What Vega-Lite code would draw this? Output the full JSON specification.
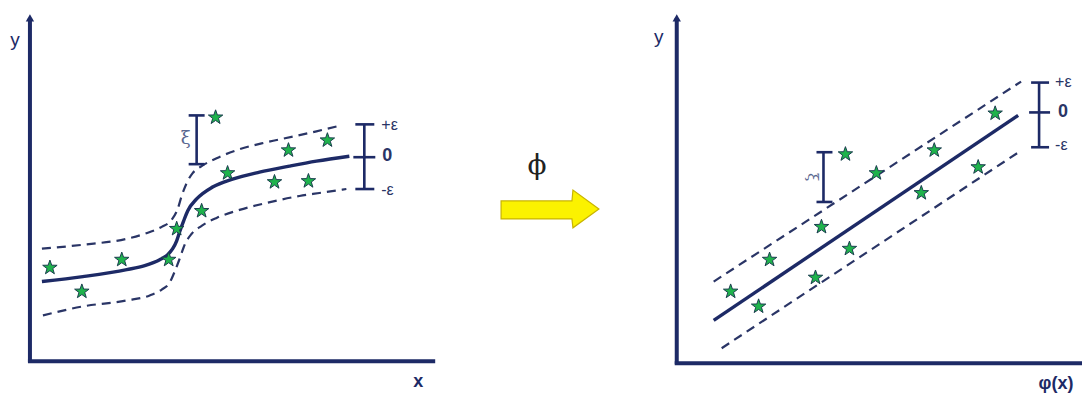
{
  "$schema": "https://vega.github.io/schema/vega-lite/v6.json",
  "width": 1084,
  "height": 393,
  "padding": 0,
  "autosize": {"type": "fit", "contains": "padding"},
  "background": "white",
  "config": {"view": {"stroke": null}},
  "datasets": {
    "axes": [
      {"id": "L-y", "x": 30, "y": 18, "x2": 30, "y2": 364},
      {"id": "L-x", "x": 28, "y": 363, "x2": 436, "y2": 363},
      {"id": "R-y", "x": 678, "y": 18, "x2": 678, "y2": 366},
      {"id": "R-x", "x": 676, "y": 365, "x2": 1084, "y2": 365}
    ],
    "axisTips": [
      {"x": 30, "y": 18},
      {"x": 678, "y": 18}
    ],
    "fit": [
      {"id": "L", "x": 42, "y": 283}, {"id": "L", "x": 83, "y": 278}, {"id": "L", "x": 127, "y": 271},
      {"id": "L", "x": 145, "y": 267}, {"id": "L", "x": 160, "y": 261}, {"id": "L", "x": 168, "y": 256},
      {"id": "L", "x": 173, "y": 250}, {"id": "L", "x": 177, "y": 242}, {"id": "L", "x": 180, "y": 233},
      {"id": "L", "x": 184, "y": 222}, {"id": "L", "x": 188, "y": 212}, {"id": "L", "x": 197, "y": 200},
      {"id": "L", "x": 213, "y": 188}, {"id": "L", "x": 233, "y": 180}, {"id": "L", "x": 260, "y": 173},
      {"id": "L", "x": 290, "y": 167}, {"id": "L", "x": 317, "y": 162}, {"id": "L", "x": 350, "y": 157},
      {"id": "R", "x": 715, "y": 322}, {"id": "R", "x": 1020, "y": 116}
    ],
    "tube": [
      {"id": "Lu", "x": 42, "y": 250}, {"id": "Lu", "x": 83, "y": 246}, {"id": "Lu", "x": 127, "y": 240},
      {"id": "Lu", "x": 145, "y": 235}, {"id": "Lu", "x": 162, "y": 228}, {"id": "Lu", "x": 172, "y": 221},
      {"id": "Lu", "x": 178, "y": 210}, {"id": "Lu", "x": 182, "y": 197}, {"id": "Lu", "x": 187, "y": 184},
      {"id": "Lu", "x": 193, "y": 174}, {"id": "Lu", "x": 202, "y": 167}, {"id": "Lu", "x": 217, "y": 159},
      {"id": "Lu", "x": 240, "y": 150}, {"id": "Lu", "x": 267, "y": 143}, {"id": "Lu", "x": 295, "y": 137},
      {"id": "Lu", "x": 317, "y": 132}, {"id": "Lu", "x": 342, "y": 126},
      {"id": "Ll", "x": 43, "y": 317}, {"id": "Ll", "x": 83, "y": 308}, {"id": "Ll", "x": 127, "y": 302},
      {"id": "Ll", "x": 150, "y": 297}, {"id": "Ll", "x": 162, "y": 291}, {"id": "Ll", "x": 170, "y": 284},
      {"id": "Ll", "x": 175, "y": 273}, {"id": "Ll", "x": 180, "y": 260}, {"id": "Ll", "x": 185, "y": 246},
      {"id": "Ll", "x": 192, "y": 235}, {"id": "Ll", "x": 202, "y": 227}, {"id": "Ll", "x": 217, "y": 219},
      {"id": "Ll", "x": 240, "y": 211}, {"id": "Ll", "x": 267, "y": 204}, {"id": "Ll", "x": 300, "y": 197},
      {"id": "Ll", "x": 320, "y": 194}, {"id": "Ll", "x": 347, "y": 190},
      {"id": "Ru", "x": 715, "y": 283}, {"id": "Ru", "x": 1023, "y": 82},
      {"id": "Rl", "x": 723, "y": 350}, {"id": "Rl", "x": 1022, "y": 152}
    ],
    "samples": [
      {"x": 50, "y": 269}, {"x": 82, "y": 293}, {"x": 122, "y": 261}, {"x": 169, "y": 261},
      {"x": 177, "y": 230}, {"x": 202, "y": 212}, {"x": 228, "y": 174}, {"x": 216, "y": 118},
      {"x": 275, "y": 183}, {"x": 289, "y": 151}, {"x": 309, "y": 182}, {"x": 328, "y": 141},
      {"x": 732, "y": 293}, {"x": 760, "y": 308}, {"x": 771, "y": 261}, {"x": 823, "y": 228},
      {"x": 817, "y": 279}, {"x": 851, "y": 250}, {"x": 847, "y": 155}, {"x": 878, "y": 174},
      {"x": 923, "y": 194}, {"x": 936, "y": 151}, {"x": 980, "y": 168}, {"x": 997, "y": 114}
    ],
    "brackets": [
      {"x": 197, "y": 116, "x2": 197, "y2": 165},
      {"x": 189, "y": 116, "x2": 205, "y2": 116},
      {"x": 189, "y": 165, "x2": 205, "y2": 165},
      {"x": 365, "y": 125, "x2": 365, "y2": 190},
      {"x": 356, "y": 125, "x2": 375, "y2": 125},
      {"x": 356, "y": 190, "x2": 375, "y2": 190},
      {"x": 354, "y": 158, "x2": 376, "y2": 158},
      {"x": 825, "y": 153, "x2": 825, "y2": 203},
      {"x": 818, "y": 153, "x2": 834, "y2": 153},
      {"x": 818, "y": 203, "x2": 834, "y2": 203},
      {"x": 1041, "y": 83, "x2": 1041, "y2": 148},
      {"x": 1033, "y": 83, "x2": 1051, "y2": 83},
      {"x": 1033, "y": 148, "x2": 1051, "y2": 148},
      {"x": 1031, "y": 113, "x2": 1052, "y2": 113}
    ],
    "arrow": [
      {"x": 502, "y": 202, "y2": 220},
      {"x": 573, "y": 202, "y2": 220},
      {"x": 574, "y": 191, "y2": 229},
      {"x": 600, "y": 210, "y2": 210}
    ]
  },
  "encoding": {
    "x": {"field": "x", "type": "quantitative", "scale": {"domain": [0, 1084], "nice": false, "zero": false}, "axis": null},
    "y": {"field": "y", "type": "quantitative", "scale": {"domain": [0, 393], "nice": false, "zero": false, "reverse": true}, "axis": null}
  },
  "layer": [
    {
      "data": {"name": "arrow"},
      "mark": {"type": "area", "color": "#fbf200", "stroke": "#c9b400", "strokeWidth": 1.2, "interpolate": "linear"},
      "encoding": {
        "y": {"field": "y", "type": "quantitative", "stack": null},
        "y2": {"field": "y2"}
      }
    },
    {
      "data": {"name": "axes"},
      "mark": {"type": "rule", "color": "#1d2a66", "strokeWidth": 4},
      "encoding": {"x2": {"field": "x2"}, "y2": {"field": "y2"}}
    },
    {
      "data": {"name": "axisTips"},
      "mark": {"type": "point", "shape": "triangle-up", "filled": true, "color": "#1d2a66", "size": 70, "opacity": 1},
      "encoding": {}
    },
    {
      "data": {"name": "tube"},
      "mark": {"type": "line", "color": "#2a3566", "strokeWidth": 2.2, "strokeDash": [9, 6], "interpolate": "monotone"},
      "encoding": {"detail": {"field": "id", "type": "nominal"}}
    },
    {
      "data": {"name": "fit"},
      "mark": {"type": "line", "color": "#1d2a66", "strokeWidth": 3.4, "interpolate": "monotone"},
      "encoding": {"detail": {"field": "id", "type": "nominal"}}
    },
    {
      "data": {"name": "brackets"},
      "mark": {"type": "rule", "color": "#1d2a66", "strokeWidth": 2.6},
      "encoding": {"x2": {"field": "x2"}, "y2": {"field": "y2"}}
    },
    {
      "data": {"name": "samples"},
      "mark": {
        "type": "point",
        "shape": "M0,-1L0.235,-0.324L0.951,-0.309L0.38,0.124L0.588,0.809L0,0.4L-0.588,0.809L-0.38,0.124L-0.951,-0.309L-0.235,-0.324Z",
        "filled": true, "fill": "#1fb34c", "stroke": "#1b3f4f", "strokeWidth": 1, "size": 230, "opacity": 1
      },
      "encoding": {}
    },
    {
      "data": {"values": [{"x": 15, "y": 40, "t": "y"}, {"x": 660, "y": 37, "t": "y"}]},
      "mark": {"type": "text", "font": "Liberation Sans", "fontSize": 19, "color": "#1d2a66", "align": "center", "baseline": "middle"},
      "encoding": {"text": {"field": "t", "type": "nominal"}}
    },
    {
      "data": {"values": [{"x": 419, "y": 384, "t": "x"}, {"x": 1058, "y": 386, "t": "φ(x)"}]},
      "mark": {"type": "text", "font": "Liberation Sans", "fontSize": 18, "fontWeight": "bold", "color": "#1d2a66", "align": "center", "baseline": "middle"},
      "encoding": {"text": {"field": "t", "type": "nominal"}}
    },
    {
      "data": {"values": [{"x": 382, "y": 126, "t": "+ε"}, {"x": 382, "y": 191, "t": "-ε"}, {"x": 1057, "y": 82, "t": "+ε"}, {"x": 1057, "y": 146, "t": "-ε"}]},
      "mark": {"type": "text", "font": "Liberation Sans", "fontSize": 16, "color": "#2a3566", "align": "left", "baseline": "middle"},
      "encoding": {"text": {"field": "t", "type": "nominal"}}
    },
    {
      "data": {"values": [{"x": 383, "y": 157, "t": "0"}, {"x": 1060, "y": 113, "t": "0"}]},
      "mark": {"type": "text", "font": "Liberation Sans", "fontSize": 18, "fontWeight": "bold", "color": "#2a3566", "align": "left", "baseline": "middle"},
      "encoding": {"text": {"field": "t", "type": "nominal"}}
    },
    {
      "data": {"values": [{"x": 186, "y": 140, "t": "ξ"}]},
      "mark": {"type": "text", "font": "DejaVu Serif", "fontSize": 18, "color": "#5b6890", "align": "center", "baseline": "middle"},
      "encoding": {"text": {"field": "t", "type": "nominal"}}
    },
    {
      "data": {"values": [{"x": 815, "y": 178, "t": "ξ"}]},
      "mark": {"type": "text", "font": "DejaVu Serif", "fontSize": 15, "color": "#5b6890", "align": "center", "baseline": "middle", "angle": 90},
      "encoding": {"text": {"field": "t", "type": "nominal"}}
    },
    {
      "data": {"values": [{"x": 538, "y": 167, "t": "ϕ"}]},
      "mark": {"type": "text", "font": "DejaVu Serif", "fontSize": 28, "color": "#222222", "align": "center", "baseline": "middle"},
      "encoding": {"text": {"field": "t", "type": "nominal"}}
    }
  ]
}
